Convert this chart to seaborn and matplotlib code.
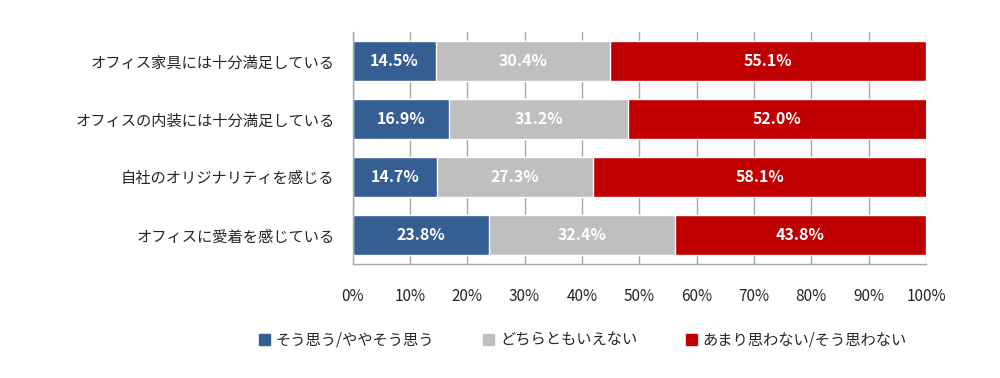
import numpy as np
import pandas as pd
import seaborn as sns
import matplotlib.pyplot as plt
from matplotlib.patches import Patch

# data
items = ['オフィス家具には十分満足している',
         'オフィスの内装には十分満足している',
         '自社のオリジナリティを感じる',
         'オフィスに愛着を感じている']
agree = [14.5, 16.9, 14.7, 23.8]
neutral = [30.4, 31.2, 27.3, 32.4]
disagree = [55.1, 52.0, 58.1, 43.8]
series = ['そう思う/ややそう思う', 'どちらともいえない', 'あまり思わない/そう思わない']
colors = ['#355E93', '#BFBFBF', '#C00000']
ticks = np.arange(0, 101, 10)

sns.set_theme(style='white')
plt.rcParams['font.family'] = ['Noto Sans CJK JP', 'DejaVu Sans']

df = pd.DataFrame({'item': items, 'a': agree, 'n': neutral, 'd': disagree})
df['c1'] = df['a']
df['c2'] = df['a'] + df['n']
df['c3'] = df['c2'] + df['d']

fig = plt.figure(figsize=(10, 3.78), dpi=100)
ax = fig.add_axes([0.3525, 0.3016, 0.5735, 0.614])

# stacked by drawing cumulative totals back to front
for col, c in zip(['c3', 'c2', 'c1'], colors[::-1]):
    sns.barplot(data=df, x=col, y='item', orient='h', color=c, width=0.68,
                saturation=1, ax=ax, zorder=2)

for i in range(len(items)):
    starts = [0, df['c1'][i], df['c2'][i]]
    vals = [agree[i], neutral[i], disagree[i]]
    for s, v in zip(starts, vals):
        ax.text(s + v / 2, i, f'{v:.1f}%', ha='center', va='center',
                color='white', fontsize=11.5, fontweight='bold', zorder=3)

ax.set_xlim(0, 100)
ax.set_ylim(3.5, -0.5)
ax.set_xticks(ticks)
ax.set_xticklabels([f'{t}%' for t in ticks], fontsize=11)
ax.tick_params(axis='y', labelsize=11, length=0, pad=13)
ax.tick_params(axis='x', length=0, pad=17)
ax.set_xlabel('')
ax.set_ylabel('')
ax.xaxis.grid(True, color='#A6A6A6', linewidth=1, zorder=0)
ax.set_axisbelow(True)
for s in ['top', 'right']:
    ax.spines[s].set_visible(False)
for s in ['left', 'bottom']:
    ax.spines[s].set_color('#A6A6A6')
    ax.spines[s].set_linewidth(1)

handles = [Patch(facecolor=c, edgecolor=c) for c in colors]
fig.legend(handles, series, loc='center', bbox_to_anchor=(0.583, 0.1), ncol=3,
           frameon=False, fontsize=11, handlelength=0.7, handleheight=0.7,
           handletextpad=0.4, columnspacing=3.2)

fig.savefig('out.png', dpi=100)
